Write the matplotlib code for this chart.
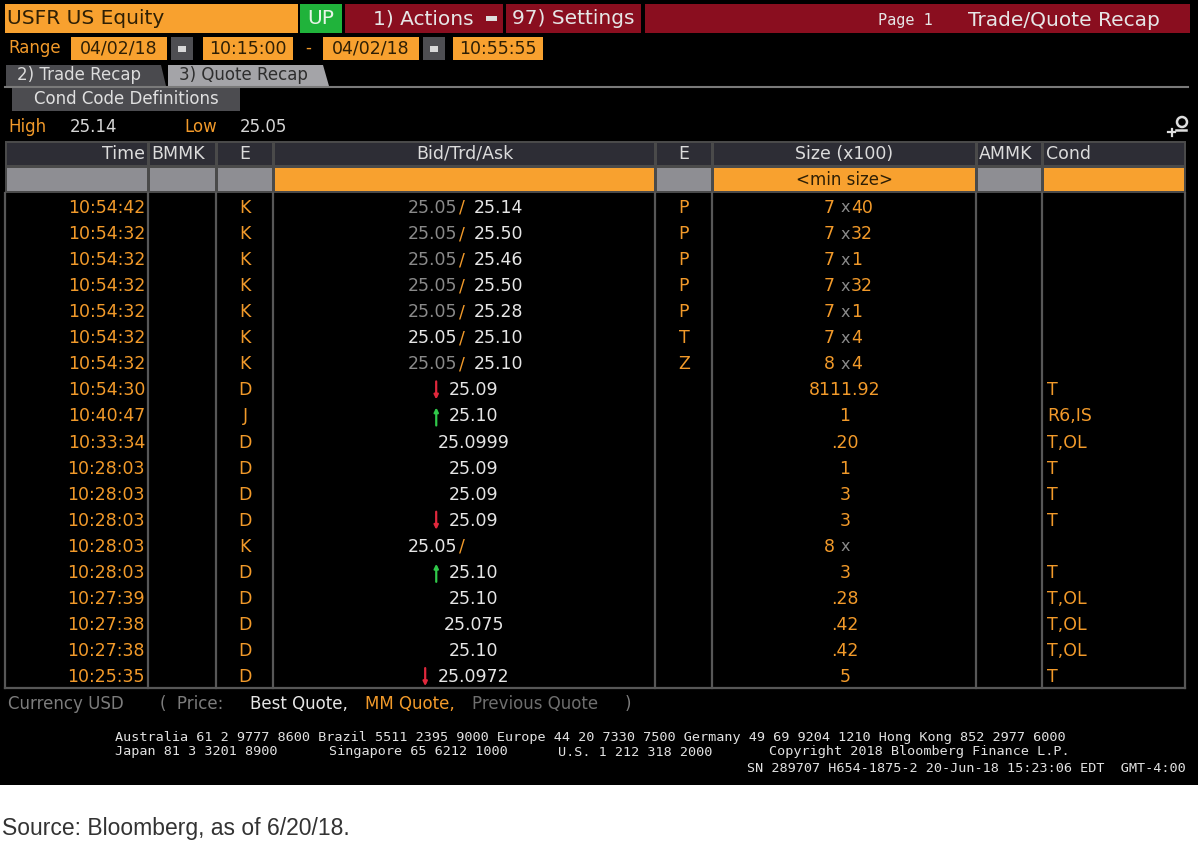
import matplotlib
matplotlib.use("Agg")
import matplotlib.pyplot as plt
from matplotlib.patches import Rectangle, Polygon, Circle
from matplotlib import font_manager

# ---- values ----
times = ["10:54:42", "10:54:32", "10:54:32", "10:54:32", "10:54:32", "10:54:32",
         "10:54:32", "10:54:30", "10:40:47", "10:33:34", "10:28:03", "10:28:03",
         "10:28:03", "10:28:03", "10:28:03", "10:27:39", "10:27:38", "10:27:38",
         "10:25:35"]
bid_exch = ["K", "K", "K", "K", "K", "K", "K", "D", "J", "D", "D", "D", "D", "K",
            "D", "D", "D", "D", "D"]
bid_px = ["25.05", "25.05", "25.05", "25.05", "25.05", "25.05", "25.05", "", "", "",
          "", "", "", "25.05", "", "", "", "", ""]
# True where the bid shows as best quote (white), else previous quote (grey)
bid_best = [False, False, False, False, False, True, False, False, False, False,
            False, False, False, True, False, False, False, False, False]
ask_px = ["25.14", "25.50", "25.46", "25.50", "25.28", "25.10", "25.10", "", "", "",
          "", "", "", "", "", "", "", "", ""]
trade_px = ["", "", "", "", "", "", "", "25.09", "25.10", "25.0999", "25.09", "25.09",
            "25.09", "", "25.10", "25.10", "25.075", "25.10", "25.0972"]
tick = ["", "", "", "", "", "", "", "down", "up", "", "", "", "down", "", "up", "",
        "", "", "down"]
ask_exch = ["P", "P", "P", "P", "P", "T", "Z", "", "", "", "", "", "", "", "", "", "",
            "", ""]
bid_size = ["7", "7", "7", "7", "7", "7", "8", "8111.92", "1", ".20", "1", "3", "3",
            "8", "3", ".28", ".42", ".42", "5"]
ask_size = ["40", "32", "1", "32", "1", "4", "4", "", "", "", "", "", "", "", "", "",
            "", "", ""]
cond = ["", "", "", "", "", "", "", "T", "R6,IS", "T,OL", "T", "T", "T", "", "T",
        "T,OL", "T,OL", "T,OL", "T"]

headers = ["Time", "BMMK", "E", "Bid/Trd/Ask", "E", "Size (x100)", "AMMK", "Cond"]
col_edges = [5, 148, 216, 273, 655, 712, 976, 1042, 1185]
filter_orange = [False, False, False, True, False, True, False, True]

ORANGE = "#f8a12f"
ORANGE_TXT = "#f29a2a"
DARK_RED = "#8a0e1f"
WHITE = "#e6e6e6"
GREY_TXT = "#8a8a8a"
HEAD_BG = "#2d2d35"
FILTER_GREY = "#8e8e93"
LINE = "#575757"
BOX_TXT = "#2e1f05"

names = {f.name for f in font_manager.fontManager.ttflist}
FONT = "DejaVu Sans"
SRC_FONT = "Liberation Sans Narrow" if "Liberation Sans Narrow" in names else "Liberation Sans"
MONO = "DejaVu Sans Mono"

fig = plt.figure(figsize=(12, 8.58), dpi=100)
fig.patch.set_facecolor("white")
ax = fig.add_axes([0, 0, 1, 1])
ax.set_xlim(0, 1200)
ax.set_ylim(858, 0)
ax.axis("off")


def box(x, y, w, h, color, **kw):
    ax.add_patch(Rectangle((x, y), w, h, facecolor=color, edgecolor="none", **kw))


def txt(x, y, s, color=WHITE, size=12.5, ha="left", family=FONT, **kw):
    return ax.text(x, y, s, color=color, fontsize=size, ha=ha, va="center",
                   family=family, **kw)


# black terminal panel
box(0, 0, 1198, 785, "black")

# ---- top bar ----
box(5, 4, 293, 29, ORANGE)
txt(7, 19, "USFR US Equity", color=BOX_TXT, size=14.5)
box(300, 4, 42, 29, "#20b33b")
txt(321, 19, "UP", color="#e8f5e8", size=14.5, ha="center")
box(345, 4, 158, 29, DARK_RED)
txt(373, 19, "1) Actions", size=14.5)
box(486, 16, 11, 5, "#dddddd")
box(506, 4, 135, 29, DARK_RED)
txt(512, 19, "97) Settings", size=14.5)
box(645, 4, 545, 29, DARK_RED)
txt(905, 20, "Page 1", size=11, ha="center", family=MONO)
txt(1064, 20, "Trade/Quote Recap", size=14.5, ha="center")

# ---- range row ----
txt(8, 48, "Range", color=ORANGE_TXT, size=12)
range_boxes = [(71, 96, "04/02/18"), (203, 90, "10:15:00"), (323, 96, "04/02/18"),
               (453, 90, "10:55:55")]
for x, w, s in range_boxes:
    box(x, 37, w, 23, ORANGE)
    txt(x + w / 2, 48.5, s, color=BOX_TXT, size=12.5, ha="center")
for x in [171, 423]:
    box(x, 37, 22, 23, "#4e4e52")
    box(x + 7, 44, 8, 8, "#d8d8d8")
    box(x + 7, 44, 8, 2, "#4e4e52")
txt(308, 48, "-", color=ORANGE_TXT, size=12, ha="center")

# ---- tabs ----
ax.add_patch(Polygon([(6, 65), (161, 65), (166, 86), (6, 86)], closed=True,
                     facecolor="#4a4a4e", edgecolor="none"))
ax.add_patch(Polygon([(168, 65), (323, 65), (329, 86), (168, 86)], closed=True,
                     facecolor="#a4a4a8", edgecolor="none"))
txt(17, 75.5, "2) Trade Recap", size=12, color="#dcdcdc")
txt(179, 75.5, "3) Quote Recap", size=12, color="#2e2e2e")
ax.plot([5, 1188], [86.5, 86.5], color="#7a7a7a", lw=1.5)

box(12, 88, 228, 23, "#4c4c50")
txt(126, 99.5, "Cond Code Definitions", size=12, ha="center", color="#e0e0e0")

txt(8, 127, "High", color=ORANGE_TXT, size=12)
txt(70, 127, "25.14", size=12, color="#d6d6d6")
txt(184, 127, "Low", color=ORANGE_TXT, size=12)
txt(240, 127, "25.05", size=12, color="#d6d6d6")
# zoom icon: lens with a small plus at its lower left
ax.add_patch(Circle((1182, 122), 5, facecolor="none", edgecolor="#dddddd", lw=1.8))
ax.plot([1176, 1186], [130, 130], color="#dddddd", lw=1.8)
ax.plot([1168, 1175], [132, 132], color="#dddddd", lw=1.6)
ax.plot([1171.5, 1171.5], [128.5, 135.5], color="#dddddd", lw=1.6)

# ---- table header and filter rows ----
box(5, 141, 1181, 52, "#4a4a4a")
for c in range(len(headers)):
    x0, x1 = col_edges[c], col_edges[c + 1]
    box(x0 + 2, 143, x1 - x0 - 3, 22, HEAD_BG)
    box(x0 + 2, 168, x1 - x0 - 3, 23, ORANGE if filter_orange[c] else FILTER_GREY)
head_pos = [(145, "right"), (151, "left"), (245, "center"), (465, "center"),
            (684, "center"), (844, "center"), (979, "left"), (1046, "left")]
for (x, ha), h in zip(head_pos, headers):
    txt(x, 154, h, size=12.5, ha=ha, color="#dcdcdc")
txt(844, 180, "<min size>", size=12, ha="center", color=BOX_TXT)

# grid of the data area
top, bottom = 193, 688
for x in col_edges:
    ax.plot([x, x], [top, bottom], color=LINE, lw=1.6)
ax.plot([5, 1185], [bottom, bottom], color=LINE, lw=1.6)

# ---- data rows ----
renderer = fig.canvas.get_renderer()
y0, step = 208, 26.06
for i in range(len(times)):
    y = y0 + i * step
    txt(145, y, times[i], color=ORANGE_TXT, ha="right")
    txt(245, y, bid_exch[i], color=ORANGE_TXT, ha="center")
    if bid_px[i]:
        txt(457, y, bid_px[i], color=WHITE if bid_best[i] else GREY_TXT, ha="right")
        txt(462, y, "/", color=ORANGE_TXT, ha="center")
        if ask_px[i]:
            txt(474, y, ask_px[i], color=WHITE, ha="left")
        txt(835, y, bid_size[i], color=ORANGE_TXT, ha="right")
        txt(845, y, "x", color=GREY_TXT, ha="center", size=11.5)
        if ask_size[i]:
            txt(851, y, ask_size[i], color=ORANGE_TXT, ha="left")
    else:
        t = txt(474, y, trade_px[i], color=WHITE, ha="center")
        txt(845, y, bid_size[i], color=ORANGE_TXT, ha="center")
        if tick[i]:
            bb = t.get_window_extent(renderer=renderer)
            xa = bb.x0 - 13
            if tick[i] == "down":
                ax.annotate("", xy=(xa, y + 9), xytext=(xa, y - 9),
                            arrowprops=dict(arrowstyle="-|>", color="#e0283c",
                                            lw=1.6, mutation_scale=6,
                                            shrinkA=0, shrinkB=0))
            else:
                ax.annotate("", xy=(xa, y - 9), xytext=(xa, y + 9),
                            arrowprops=dict(arrowstyle="-|>", color="#30c84a",
                                            lw=1.6, mutation_scale=6,
                                            shrinkA=0, shrinkB=0))
    txt(684, y, ask_exch[i], color=ORANGE_TXT, ha="center")
    txt(1047, y, cond[i], color=ORANGE_TXT, ha="left")

# ---- footer ----
txt(8, 704, "Currency USD", color="#7c7c7c", size=12)
txt(160, 704, "(  Price:", color="#7c7c7c", size=12)
txt(250, 704, "Best Quote,", color=WHITE, size=12)
txt(365, 704, "MM Quote,", color=ORANGE_TXT, size=12)
txt(472, 704, "Previous Quote", color="#6e6e6e", size=12)
txt(625, 704, ")", color="#7c7c7c", size=12)

INFO = "#e2e2e2"
txt(115, 737, "Australia 61 2 9777 8600 Brazil 5511 2395 9000 Europe 44 20 7330 7500 "
    "Germany 49 69 9204 1210 Hong Kong 852 2977 6000", color=INFO, size=9.7, family=MONO)
txt(115, 752, "Japan 81 3 3201 8900", color=INFO, size=9.7, family=MONO)
txt(329, 752, "Singapore 65 6212 1000", color=INFO, size=9.7, family=MONO)
txt(558, 752, "U.S. 1 212 318 2000", color=INFO, size=9.7, family=MONO)
txt(769, 752, "Copyright 2018 Bloomberg Finance L.P.", color=INFO, size=9.7, family=MONO)
txt(1186, 769, "SN 289707 H654-1875-2 20-Jun-18 15:23:06 EDT  GMT-4:00", color=INFO,
    size=9.7, family=MONO, ha="right")

txt(2, 828, "Source: Bloomberg, as of 6/20/18.", color="#333333", size=16.5,
    family=SRC_FONT)

fig.savefig("out.png", dpi=100, facecolor="white")
